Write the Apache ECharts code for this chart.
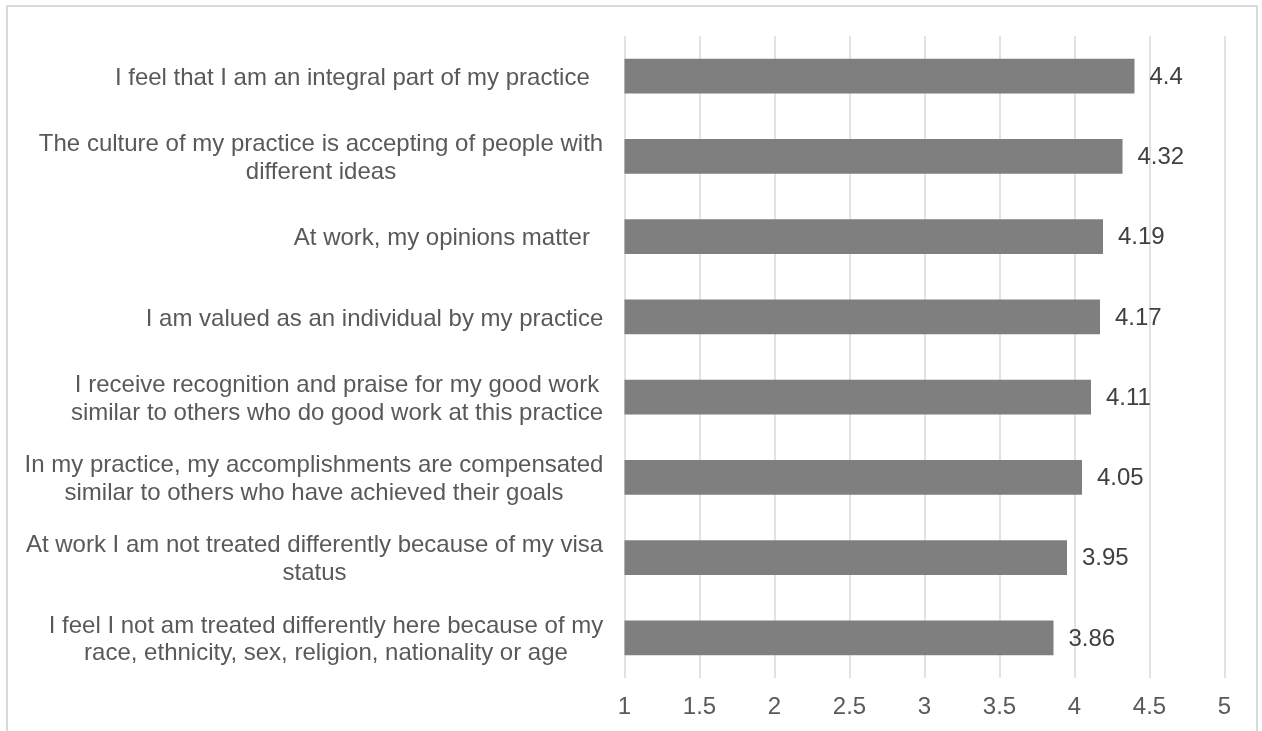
<!DOCTYPE html>
<html><head><meta charset="utf-8">
<script src="https://cdn.jsdelivr.net/npm/echarts@6/dist/echarts.min.js"></script>
<style>html,body{margin:0;padding:0;background:#fff}#c{width:1262px;height:731px}</style>
</head><body><div id="c"></div>
<script>
const categories = [
  "I feel that I am an integral part of my practice  ",
  "The culture of my practice is accepting of people with\ndifferent ideas",
  "At work, my opinions matter  ",
  "I am valued as an individual by my practice",
  "I receive recognition and praise for my good work\nsimilar to others who do good work at this practice",
  "In my practice, my accomplishments are compensated\nsimilar to others who have achieved their goals",
  "At work I am not treated differently because of my visa\nstatus",
  "I feel I not am treated differently here because of my\nrace, ethnicity, sex, religion, nationality or age"
];
const values = [4.4, 4.32, 4.19, 4.17, 4.11, 4.05, 3.95, 3.86];
const xMin = 1, xMax = 5, xInterval = 0.5;

const FONT = '"Liberation Sans", Arial, sans-serif';
const FS = 24;
const ctx = document.createElement('canvas').getContext('2d');
ctx.font = FS + 'px ' + FONT;
const rich = {};
categories.forEach((c, i) => {
  const w = Math.max(...c.split('\n').map(l => ctx.measureText(l).width));
  rich['r' + i] = { width: Math.ceil(w), align: 'center', fontSize: FS, lineHeight: 27.6, color: '#595959', fontFamily: FONT };
});

const chart = echarts.init(document.getElementById('c'), null, { renderer: 'canvas' });
chart.setOption({
  backgroundColor: '#fff',
  animation: false,
  textStyle: { fontFamily: FONT },
  graphic: [{
    type: 'rect', silent: true, z: -1,
    shape: { x: 7, y: 6, width: 1250, height: 800 },
    style: { fill: null, stroke: '#d9d9d9', lineWidth: 2 }
  }],
  grid: { left: 624.5, right: 37.5, top: 36, bottom: 53, containLabel: false },
  xAxis: {
    type: 'value', min: xMin, max: xMax, interval: xInterval,
    axisLine: { show: false }, axisTick: { show: false },
    axisLabel: { fontSize: FS, color: '#595959', margin: 17, fontFamily: FONT },
    splitLine: { show: true, lineStyle: { color: '#d9d9d9', width: 1.5 } }
  },
  yAxis: {
    type: 'category', inverse: true, data: categories,
    axisLine: { show: false }, axisTick: { show: false },
    axisLabel: {
      margin: 21, interval: 0, padding: [4, 0, 0, 0],
      formatter: (v, i) => v.split('\n').map(l => '{r' + i + '|' + l + '}').join('\n'),
      rich: rich
    }
  },
  series: [{
    type: 'bar', data: values, barCategoryGap: '57%',
    itemStyle: { color: '#7f7f7f' },
    label: { show: true, position: 'right', distance: 15, offset: [0, 1], fontSize: FS, color: '#404040', fontFamily: FONT }
  }]
});
</script></body></html>
